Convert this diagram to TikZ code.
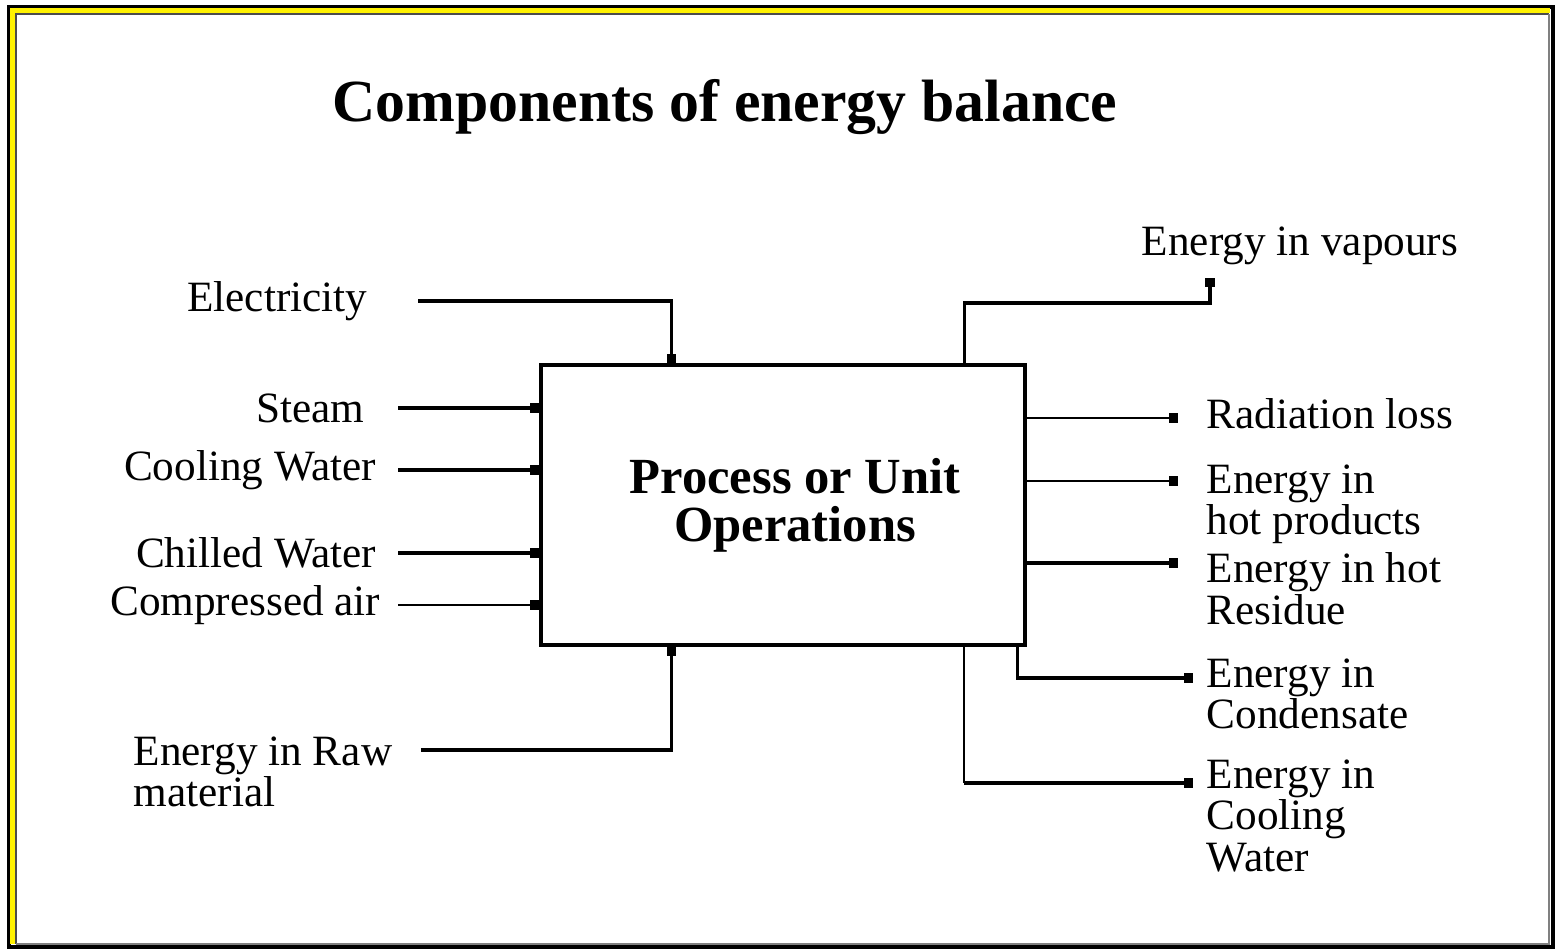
\documentclass[tikz,border=0pt]{standalone}
\usepackage{fontspec}
\setmainfont{Liberation Serif}
\usetikzlibrary{arrows.meta,calc,positioning}

\begin{document}
\begin{tikzpicture}[
    flow/.style={
        line width=0.9pt, % heavy feed line
        -{Square[length=2.6pt,width=2.6pt]}},
    thinflow/.style={flow, line width=0.5pt},
    lbl/.style={
        inner sep=0pt,
        align=left,
        font=\fontsize{12.3}{11.8}\selectfont},
    unitbox/.style={
        rectangle,
        draw, line width=0.9pt,
        minimum width=4.84cm,
        minimum height=2.80cm,
        align=center,
        font=\bfseries\fontsize{14.4}{13.6}\selectfont}
  ]
  % page size and frame
  \useasboundingbox (0,0) rectangle (15.55,-9.50);
  \draw[line width=1.2pt] (0.09,-0.07) rectangle (15.53,-9.47);
  \draw[yellow, line width=1.6pt] (0.125,-9.44) -- (0.125,-0.105) -- (15.50,-0.105);
  \draw[black!70, line width=0.8pt] (0.16,-9.44) -- (0.16,-0.14) -- (15.49,-0.14);
  \draw[black!50, line width=0.8pt] (0.16,-9.44) -- (15.49,-9.44) -- (15.49,-0.14);

  \node (title) [font=\bfseries\fontsize{17}{20}\selectfont] at (7.25,-1.07)
    {Components of energy balance};

  \node (box) [unitbox] at (7.83,-5.05) {\hspace*{0.24cm}Process or Unit\\\hspace*{0.24cm}Operations};

  % inputs
  \coordinate (inx) at (3.98,0);
  \node (elec) [lbl,anchor=east] at (3.68,-3.01) {Electricity};
  \node (steam) [lbl,anchor=east] at (3.65,-4.08) {Steam};
  \node (coolw) [lbl,anchor=east] at (3.77,-4.70) {Cooling Water};
  \node (chilw) [lbl,anchor=east] at (3.77,-5.53) {Chilled Water};
  \node (comp) [lbl,anchor=east] at (3.81,-6.05) {Compressed air};
  \node (raw) [lbl,anchor=north west] at (1.33,-7.36) {Energy in Raw\\material};

  \coordinate (elecin) at ($(box.north west)!0.2707!(box.north east)$);
  \coordinate (rawin) at ($(box.south west)!0.2707!(box.south east)$);

  \draw[flow] ([xshift=0.5cm]elec.east) -| (elecin);
  \draw[flow] (inx |- steam) -- (box.west |- steam);
  \draw[flow] (inx |- coolw) -- (box.west |- coolw);
  \draw[flow] (inx |- chilw) -- (box.west |- chilw);
  \draw[thinflow] (inx |- comp) -- (box.west |- comp);
  \draw[flow] ([xshift=0.28cm,yshift=-0.14cm]raw.north east) -| (rawin);

  % outputs
  \coordinate (vapout) at ($(box.north west)!0.872!(box.north east)$);
  \coordinate (vapbend) at (12.10,-3.03);
  \coordinate (condout) at ($(box.south west)!0.981!(box.south east)$);
  \coordinate (cwout) at ($(box.south west)!0.872!(box.south east)$);
  \coordinate (radT) at (11.78,-4.18);
  \coordinate (hpT) at (11.78,-4.81);
  \coordinate (hrT) at (11.78,-5.63);
  \coordinate (condT) at (11.93,-6.78);
  \coordinate (cwT) at (11.93,-7.83);

  \node (vap) [lbl] at (13.00,-2.46) {Energy in vapours};
  \node (rad) [lbl,anchor=west] at (12.06,-4.14) {Radiation loss};
  \node (hp) [lbl,anchor=north west] at (12.06,-4.64) {Energy in\\hot products};
  \node (hr) [lbl,anchor=north west] at (12.06,-5.52) {Energy in hot\\Residue};
  \node (cond) [lbl,anchor=north west] at (12.06,-6.58) {Energy in\\Condensate};
  \node (cw) [lbl,anchor=north west] at (12.06,-7.59) {Energy in\\Cooling\\Water};

  \draw[flow] (vapout) |- (vapbend) -- ++(0,0.25);
  \draw[thinflow] (box.east |- radT) -- (radT);
  \draw[thinflow] (box.east |- hpT) -- (hpT);
  \draw[flow] (box.east |- hrT) -- (hrT);
  \draw[flow] (condout) |- (condT);
  \draw[line width=0.5pt] (cwout) -- (cwout |- cwT);
  \draw[flow] (cwout |- cwT) -- (cwT);
\end{tikzpicture}
\end{document}
